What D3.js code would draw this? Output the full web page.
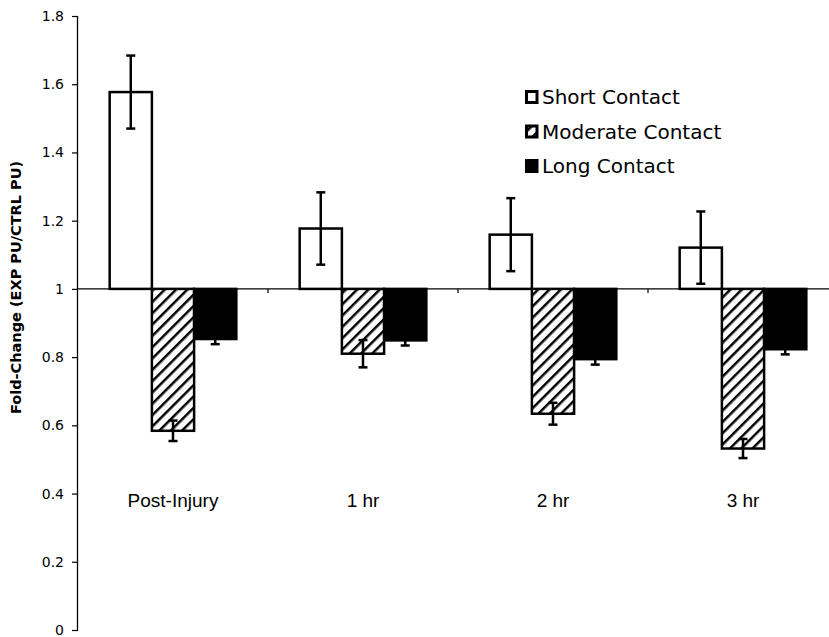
<!DOCTYPE html>
<html>
<head>
<meta charset="utf-8">
<script src="https://cdn.jsdelivr.net/npm/d3@7"></script>
<style>
  html, body { margin: 0; padding: 0; background: #fff; }
  svg { display: block; }
</style>
</head>
<body>
<svg id="chart" width="829" height="637"></svg>
<script>
// Time points after injury
const timepoints = ["Post-Injury", "1 hr", "2 hr", "3 hr"];
// Contact groups
const groups = ["Short Contact", "Moderate Contact", "Long Contact"];
// Mean fold-change per time point
const shortMean    = [1.577, 1.177, 1.159, 1.121];
const moderateMean = [0.584, 0.810, 0.634, 0.532];
const longMean     = [0.853, 0.849, 0.794, 0.823];
// Error (± half-width)
const shortErr     = [0.107, 0.106, 0.107, 0.106];
const moderateErr  = [0.030, 0.040, 0.032, 0.028];
const longErr      = [0.015, 0.015, 0.016, 0.015];
// Y-axis tick values
const yTicks = [0, 0.2, 0.4, 0.6, 0.8, 1, 1.2, 1.4, 1.6, 1.8];

(function () {
const means = [shortMean, moderateMean, longMean];
const errs = [shortErr, moderateErr, longErr];
const baseline = 1;

const svg = d3.select("#chart");
const mLeft = 78, mRight = 838, mTop = 16, mBottom = 630;

const y = d3.scaleLinear().domain([0, 1.8]).range([mBottom, mTop]);
const x0 = d3.scaleBand().domain(timepoints).range([mLeft, mRight]).padding(0);
const gw = x0.bandwidth();
const x1 = d3.scaleBand().domain(groups)
  .range([gw * 0.75 / 4.5, gw - gw * 0.75 / 4.5]).padding(0);

// Diagonal hatch for moderate contact
const defs = svg.append("defs");
const pat = defs.append("pattern")
  .attr("id", "hatch").attr("patternUnits", "userSpaceOnUse")
  .attr("width", 8).attr("height", 8)
  .attr("patternTransform", "rotate(45)");
pat.append("rect").attr("width", 8).attr("height", 8).attr("fill", "#fff");
pat.append("line").attr("x1", 0).attr("y1", 0).attr("x2", 0).attr("y2", 8)
  .attr("stroke", "#000").attr("stroke-width", 5);

const fills = ["#fff", "url(#hatch)", "#000"];

// Bars
const barData = [];
timepoints.forEach((t, i) => {
  groups.forEach((g, j) => {
    barData.push({ t, g, j, v: means[j][i], e: errs[j][i] });
  });
});

svg.append("g").selectAll("rect").data(barData).join("rect")
  .attr("x", d => x0(d.t) + x1(d.g))
  .attr("width", x1.bandwidth())
  .attr("y", d => y(Math.max(d.v, baseline)))
  .attr("height", d => Math.abs(y(d.v) - y(baseline)))
  .attr("fill", d => fills[d.j])
  .attr("stroke", "#000").attr("stroke-width", 2.5);

// Baseline axis at 1
svg.append("line")
  .attr("x1", mLeft).attr("x2", 829)
  .attr("y1", y(baseline)).attr("y2", y(baseline))
  .attr("stroke", "#000").attr("stroke-width", 1.3);
// Category separator ticks
svg.append("g").selectAll("line").data(timepoints.slice(1)).join("line")
  .attr("x1", d => x0(d)).attr("x2", d => x0(d))
  .attr("y1", y(baseline)).attr("y2", y(baseline) + 4)
  .attr("stroke", "#000").attr("stroke-width", 1.2);

// Error bars
const eb = svg.append("g").attr("stroke", "#000").attr("stroke-width", 2.5);
barData.forEach(d => {
  const cx = x0(d.t) + x1(d.g) + x1.bandwidth() / 2;
  const y1 = y(d.v + d.e), y2 = y(d.v - d.e);
  eb.append("line").attr("x1", cx).attr("x2", cx).attr("y1", y1).attr("y2", y2);
  eb.append("line").attr("x1", cx - 4.5).attr("x2", cx + 4.5).attr("y1", y1).attr("y2", y1);
  eb.append("line").attr("x1", cx - 4.5).attr("x2", cx + 4.5).attr("y1", y2).attr("y2", y2);
});

// Y axis
const yAxis = svg.append("g").attr("transform", `translate(${mLeft},0)`)
  .call(d3.axisLeft(y).tickValues(yTicks).tickSize(6).tickPadding(8)
    .tickFormat(d => d3.format("")(+d.toFixed(1))));
yAxis.select(".domain").attr("stroke-width", 1.3).attr("d", `M-0.5,${mTop}V${mBottom}`);
yAxis.selectAll(".tick line").attr("stroke-width", 1.2);
yAxis.selectAll("text")
  .attr("font-family", "DejaVu Sans, Verdana, sans-serif")
  .attr("font-size", 14).attr("fill", "#000");

// Y axis title
svg.append("text")
  .attr("transform", `translate(21,${(160 + 415) / 2}) rotate(-90)`)
  .attr("text-anchor", "middle")
  .attr("font-family", "DejaVu Sans, Verdana, sans-serif")
  .attr("font-weight", "bold").attr("font-size", 14.5)
  .text("Fold-Change (EXP PU/CTRL PU)");

// Category labels
svg.append("g").selectAll("text").data(timepoints).join("text")
  .attr("x", d => x0(d) + gw / 2)
  .attr("y", 507)
  .attr("text-anchor", "middle")
  .attr("font-family", "Liberation Sans, Arial, sans-serif")
  .attr("font-size", 19)
  .text(d => d);

// Legend
const legend = svg.append("g");
groups.forEach((g, j) => {
  const base = 104 + j * 34.5;
  legend.append("rect")
    .attr("x", 526.5).attr("y", base - 12.5).attr("width", 10.5).attr("height", 11)
    .attr("fill", fills[j]).attr("stroke", "#000").attr("stroke-width", 3);
  legend.append("text")
    .attr("x", 542).attr("y", base)
    .attr("font-family", "DejaVu Sans, Verdana, sans-serif")
    .attr("font-size", 20)
    .text(g);
});
})();
</script>
</body>
</html>
